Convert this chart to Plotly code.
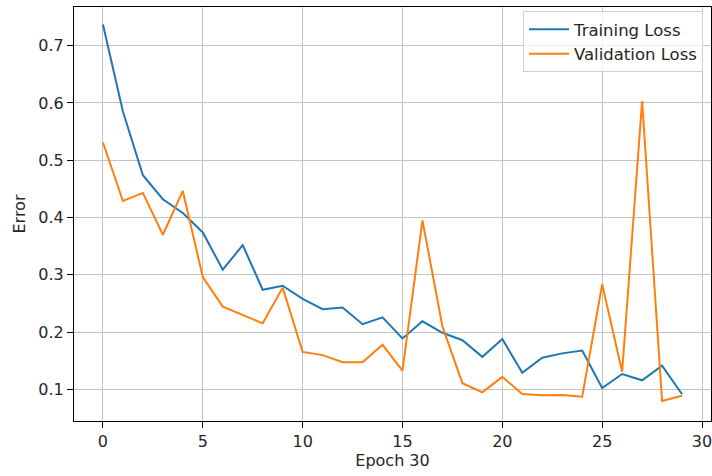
import plotly.graph_objects as go

epochs = list(range(30))
training_loss = [0.737, 0.585, 0.474, 0.432, 0.408, 0.374, 0.309, 0.352, 0.274, 0.281,
                 0.258, 0.240, 0.243, 0.214, 0.226, 0.189, 0.219, 0.199, 0.186, 0.157,
                 0.188, 0.129, 0.1555, 0.163, 0.168, 0.1025, 0.127, 0.116, 0.1415, 0.0916]
validation_loss = [0.531, 0.429, 0.443, 0.370, 0.4465, 0.296, 0.2445, 0.230, 0.2155, 0.2777,
                   0.1655, 0.160, 0.1475, 0.1475, 0.178, 0.133, 0.395, 0.21, 0.111, 0.095,
                   0.122, 0.092, 0.090, 0.0905, 0.0875, 0.2835, 0.131, 0.6035, 0.080, 0.089]
x_ticks = [0, 5, 10, 15, 20, 25, 30]
y_ticks = [0.1, 0.2, 0.3, 0.4, 0.5, 0.6, 0.7]

font = dict(family="DejaVu Sans", size=16, color="#262626")
legend_font = dict(family="DejaVu Sans", size=16.5, color="#262626")

fig = go.Figure()
fig.add_trace(go.Scatter(x=epochs, y=training_loss, mode="lines", name="Training Loss",
                         line=dict(color="#1f77b4", width=2)))
fig.add_trace(go.Scatter(x=epochs, y=validation_loss, mode="lines", name="Validation Loss",
                         line=dict(color="#ff7f0e", width=2)))

axis_common = dict(showline=True, linecolor="black", linewidth=1, mirror=True,
                   showgrid=True, gridcolor="#c4c4c4", gridwidth=1,
                   ticks="outside", ticklen=6, tickwidth=1, tickcolor="black",
                   zeroline=False, tickfont=font, automargin=False,
                   ticklabeloverflow="allow")

fig.update_layout(
    width=712, height=476,
    margin=dict(l=74, r=1, t=7, b=55),
    paper_bgcolor="white", plot_bgcolor="white",
    font=font,
    xaxis=dict(range=[-1.45, 30.45], tickvals=x_ticks,
               title=dict(text="Epoch 30", font=font, standoff=4), **axis_common),
    yaxis=dict(range=[0.045, 0.7675], tickvals=y_ticks, tickformat=".1f",
               title=dict(text="Error", font=font, standoff=8), **axis_common),
    legend=dict(x=0.9874, y=0.99, xanchor="right", yanchor="top",
                bgcolor="rgba(255,255,255,0.8)", bordercolor="#d0d0d0", borderwidth=1,
                font=legend_font, itemwidth=40),
    showlegend=True,
)

fig.write_html("out.html", config={"displayModeBar": False},
               post_script="document.body.style.margin='0';")
